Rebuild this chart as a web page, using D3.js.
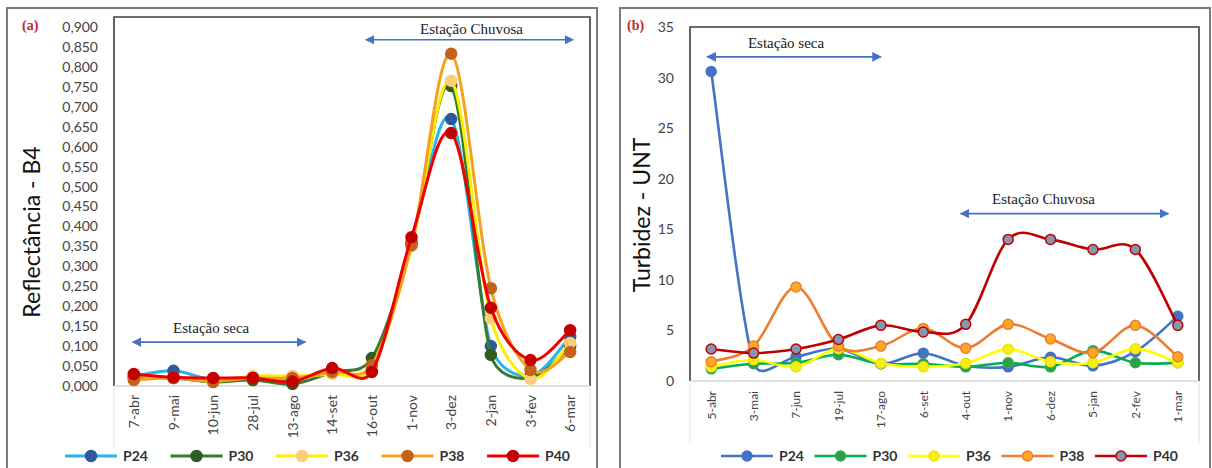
<!DOCTYPE html>
<html>
<head>
<meta charset="utf-8">
<script src="https://cdn.jsdelivr.net/npm/d3@7"></script>
<style>
  body { margin: 0; background: #fff; }
  svg { display: block; font-family: Lato, "Open Sans", sans-serif; }
</style>
</head>
<body>
<svg id="chart" width="1212" height="468"></svg>
<script>
// ---- data ----
const series = ["P24", "P30", "P36", "P38", "P40"];

// (a) reflectance, band 4
const datesA = ["7-abr", "9-mai", "10-jun", "28-jul", "13-ago", "14-set", "16-out", "1-nov", "3-dez", "2-jan", "3-fev", "6-mar"];
const reflP24 = [0.025, 0.038, 0.015, 0.018, 0.015, 0.040, 0.040, 0.360, 0.669, 0.100, 0.025, 0.123];
const reflP30 = [0.020, 0.020, 0.010, 0.015, 0.005, 0.035, 0.070, 0.355, 0.752, 0.078, 0.020, 0.100];
const reflP36 = [0.015, 0.022, 0.012, 0.025, 0.025, 0.030, 0.045, 0.350, 0.765, 0.170, 0.018, 0.108];
const reflP38 = [0.015, 0.020, 0.012, 0.020, 0.020, 0.035, 0.052, 0.353, 0.833, 0.245, 0.040, 0.085];
const reflP40 = [0.030, 0.022, 0.020, 0.020, 0.011, 0.045, 0.035, 0.373, 0.634, 0.196, 0.065, 0.140];
const yTicksA = [0, 0.05, 0.1, 0.15, 0.2, 0.25, 0.3, 0.35, 0.4, 0.45, 0.5, 0.55, 0.6, 0.65, 0.7, 0.75, 0.8, 0.85, 0.9];

// (b) turbidity
const datesB = ["5-abr", "3-mai", "7-jun", "19-jul", "17-ago", "6-set", "4-out", "1-nov", "6-dez", "5-jan", "2-fev", "1-mar"];
const turbP24 = [30.6, 1.8, 2.4, 3.2, 1.7, 2.75, 1.5, 1.4, 2.35, 1.5, 2.9, 6.4];
const turbP30 = [1.2, 1.7, 1.8, 2.6, 1.7, 1.7, 1.4, 1.8, 1.4, 3.0, 1.8, 1.8];
const turbP36 = [1.4, 2.1, 1.4, 3.2, 1.75, 1.4, 1.75, 3.15, 1.9, 1.8, 3.2, 1.8];
const turbP38 = [1.9, 3.45, 9.3, 3.45, 3.45, 5.2, 3.25, 5.6, 4.15, 2.8, 5.5, 2.4];
const turbP40 = [3.16, 2.76, 3.16, 4.1, 5.5, 4.85, 5.6, 14.0, 14.0, 13.0, 13.0, 5.5];
const yTicksB = [0, 5, 10, 15, 20, 25, 30, 35];

const svg = d3.select("#chart");
const defs = svg.append("defs");

// arrow heads for the season annotations
["start", "end"].forEach(k => {
  defs.append("marker").attr("id", "arrow-" + k)
    .attr("viewBox", "0 0 10 10").attr("refX", k === "end" ? 9 : 1).attr("refY", 5)
    .attr("markerWidth", 6).attr("markerHeight", 6).attr("markerUnits", "strokeWidth")
    .attr("orient", "auto")
    .append("path")
    .attr("d", k === "end" ? "M0,0L10,5L0,10Z" : "M10,0L0,5L10,10Z")
    .attr("fill", "#4472c4");
});

// outer frames of the two figure parts
svg.append("rect").attr("x", 7).attr("y", 8).attr("width", 590).attr("height", 470)
  .attr("fill", "none").attr("stroke", "#7a7a7a").attr("stroke-width", 2);
svg.append("rect").attr("x", 620).attr("y", 8).attr("width", 590).attr("height", 470)
  .attr("fill", "none").attr("stroke", "#7a7a7a").attr("stroke-width", 2);

// spreadsheet-like smoothed line: catmull-rom tangents, arms kept within half a segment
function smoothPath(pts) {
  const n = pts.length, p = d3.path();
  const tan = i => {
    const a = pts[Math.max(i - 1, 0)], b = pts[Math.min(i + 1, n - 1)];
    return [(b[0] - a[0]) / 6, (b[1] - a[1]) / 6];
  };
  const clamp = (t, max) => {
    const len = Math.hypot(t[0], t[1]);
    return len > max ? [t[0] * max / len, t[1] * max / len] : t;
  };
  p.moveTo(pts[0][0], pts[0][1]);
  for (let i = 0; i < n - 1; i++) {
    const P = pts[i], Q = pts[i + 1];
    const seg = Math.hypot(Q[0] - P[0], Q[1] - P[1]);
    const t1 = clamp(tan(i), seg * 0.5), t2 = clamp(tan(i + 1), seg * 0.5);
    p.bezierCurveTo(P[0] + t1[0], P[1] + t1[1], Q[0] - t2[0], Q[1] - t2[1], Q[0], Q[1]);
  }
  return p.toString();
}

function drawPanel(cfg) {
  const g = svg.append("g");
  const x = d3.scaleBand().domain(cfg.dates).range([cfg.left, cfg.right]);
  const y = d3.scaleLinear().domain([0, cfg.yMax]).range([cfg.bottom, cfg.top]);
  const xc = d => x(d) + x.bandwidth() / 2;

  // plot box
  g.append("path")
    .attr("d", `M${cfg.left},${cfg.bottom}V${cfg.top}H${cfg.right}V${cfg.bottom}`)
    .attr("fill", "none").attr("stroke", "#3f3f3f").attr("stroke-width", 1.6);
  g.append("line").attr("x1", cfg.left).attr("x2", cfg.right)
    .attr("y1", cfg.bottom).attr("y2", cfg.bottom)
    .attr("stroke", "#d4d4d4").attr("stroke-width", 1.5);
  [cfg.left, cfg.right].forEach(px => {
    g.append("line").attr("x1", px).attr("x2", px)
      .attr("y1", cfg.bottom).attr("y2", cfg.bottom + 62)
      .attr("stroke", "#e2e2e2").attr("stroke-width", 1);
  });

  // y axis labels
  const yAxis = d3.axisLeft(y).tickValues(cfg.yTicks).tickFormat(cfg.yFormat)
    .tickSize(0).tickPadding(0);
  const ya = g.append("g").attr("transform", `translate(${cfg.yLabelX},0)`).call(yAxis);
  ya.select(".domain").remove();
  ya.selectAll("text").attr("fill", "#444").style("font-size", cfg.yFont + "px")
    .style("font-family", "Lato, sans-serif");

  // x axis labels, rotated
  const xa = g.append("g").attr("transform", `translate(0,${cfg.bottom})`)
    .call(d3.axisBottom(x).tickSize(0));
  xa.select(".domain").remove();
  xa.selectAll("text")
    .attr("transform", "rotate(-90)")
    .attr("x", -cfg.xLabelGap).attr("y", 0).attr("dy", "0.36em")
    .attr("text-anchor", "end")
    .attr("fill", "#444").style("font-size", cfg.xFont + "px")
    .style("font-family", "Lato, sans-serif");

  // axis title
  g.append("text")
    .attr("transform", `translate(${cfg.titleX},${cfg.titleY}) rotate(-90)`)
    .attr("text-anchor", "middle").attr("dy", "0.35em")
    .attr("fill", "#111").style("font-size", cfg.titleFont + "px")
    .text(cfg.yTitle);

  // panel letter
  g.append("text").attr("x", cfg.letterX).attr("y", 25).attr("dy", "0.35em")
    .attr("fill", "#c0282d").style("font-family", "'Liberation Serif', serif")
    .style("font-weight", "bold").style("font-size", "14px")
    .text(cfg.letter);

  // season annotations
  cfg.notes.forEach(n => {
    const x1 = xc(n.from) + n.dx1, x2 = xc(n.to) + n.dx2;
    g.append("line").attr("x1", x1).attr("x2", x2)
      .attr("y1", y(n.arrowAt)).attr("y2", y(n.arrowAt))
      .attr("stroke", "#4472c4").attr("stroke-width", 1.6)
      .attr("marker-start", "url(#arrow-start)").attr("marker-end", "url(#arrow-end)");
    g.append("text").attr("x", (x1 + x2) / 2 + n.tdx).attr("y", y(n.textAt))
      .attr("dy", "0.35em").attr("text-anchor", "middle")
      .attr("fill", "#222").style("font-family", "'Liberation Serif', serif")
      .style("font-size", "15px").text(n.label);
  });

  // series
  series.forEach((s, k) => {
    const vals = cfg.values[k];
    const pts = vals.map((v, i) => [xc(cfg.dates[i]), y(v)]);
    g.append("path")
      .attr("d", smoothPath(pts))
      .attr("fill", "none").attr("stroke", cfg.lineColor[k])
      .attr("stroke-width", cfg.lineWidth).attr("stroke-linejoin", "round");
    g.selectAll(null).data(vals).enter().append("circle")
      .attr("cx", (d, i) => xc(cfg.dates[i]))
      .attr("cy", d => y(d))
      .attr("r", cfg.dotR)
      .attr("fill", cfg.dotFill[k])
      .attr("stroke", cfg.dotStroke[k]).attr("stroke-width", 1.5);
  });

  // legend
  series.forEach((s, k) => {
    const lx = cfg.legendX + k * cfg.legendStep;
    const ly = 456;
    g.append("line").attr("x1", lx).attr("x2", lx + 52).attr("y1", ly).attr("y2", ly)
      .attr("stroke", cfg.lineColor[k]).attr("stroke-width", cfg.lineWidth);
    g.append("circle").attr("cx", lx + 26).attr("cy", ly).attr("r", cfg.dotR)
      .attr("fill", cfg.dotFill[k]).attr("stroke", cfg.dotStroke[k]).attr("stroke-width", 1.5);
    g.append("text").attr("x", lx + 58).attr("y", ly).attr("dy", "0.35em")
      .attr("fill", "#333").style("font-weight", "bold").style("font-size", "14px")
      .text(s);
  });
}

drawPanel({
  dates: datesA,
  values: [reflP24, reflP30, reflP36, reflP38, reflP40],
  left: 114, right: 590, top: 17, bottom: 386, yMax: 0.925,
  yTicks: yTicksA, yFormat: d => d3.format(".3f")(d).replace(".", ","),
  yLabelX: 98, yFont: 14, xFont: 14, xLabelGap: 9,
  yTitle: "Reflectância - B4", titleX: 32, titleY: 232, titleFont: 23,
  letter: "(a)", letterX: 22,
  lineColor: ["#27b4e6", "#3a7a2b", "#ffee00", "#f6a11d", "#f20000"],
  dotFill: ["#30599a", "#2f5d22", "#fbcd78", "#c4621b", "#c40000"],
  dotStroke: ["#30599a", "#2f5d22", "#fbcd78", "#c4621b", "#c40000"],
  lineWidth: 3, dotR: 5.5,
  legendX: 65, legendStep: 105.5,
  notes: [
    { label: "Estação Chuvosa", from: "16-out", to: "6-mar", dx1: -6, dx2: 3, arrowAt: 0.868, textAt: 0.895, tdx: 2 },
    { label: "Estação seca", from: "7-abr", to: "13-ago", dx1: -1, dx2: 13, arrowAt: 0.110, textAt: 0.146, tdx: -8 }
  ]
});

drawPanel({
  dates: datesB,
  values: [turbP24, turbP30, turbP36, turbP38, turbP40],
  left: 690, right: 1199, top: 27, bottom: 381, yMax: 35,
  yTicks: yTicksB, yFormat: d3.format("d"),
  yLabelX: 674, yFont: 14, xFont: 12, xLabelGap: 10,
  yTitle: "Turbidez - UNT", titleX: 642, titleY: 215, titleFont: 23,
  letter: "(b)", letterX: 627,
  lineColor: ["#4472c4", "#00b050", "#ffff00", "#ed7d31", "#c00000"],
  dotFill: ["#4472c4", "#2f9e4a", "#f6ee1a", "#ffa726", "#8497b0"],
  dotStroke: ["#4472c4", "#38a64f", "#f2e400", "#ed7d31", "#c00000"],
  lineWidth: 2.6, dotR: 5,
  legendX: 721, legendStep: 93.5,
  notes: [
    { label: "Estação seca", from: "5-abr", to: "17-ago", dx1: -4, dx2: 0, arrowAt: 32.05, textAt: 33.4, tdx: -8 },
    { label: "Estação Chuvosa", from: "4-out", to: "2-fev", dx1: -5, dx2: 33, arrowAt: 16.55, textAt: 18.0, tdx: -21 }
  ]
});
</script>
</body>
</html>
